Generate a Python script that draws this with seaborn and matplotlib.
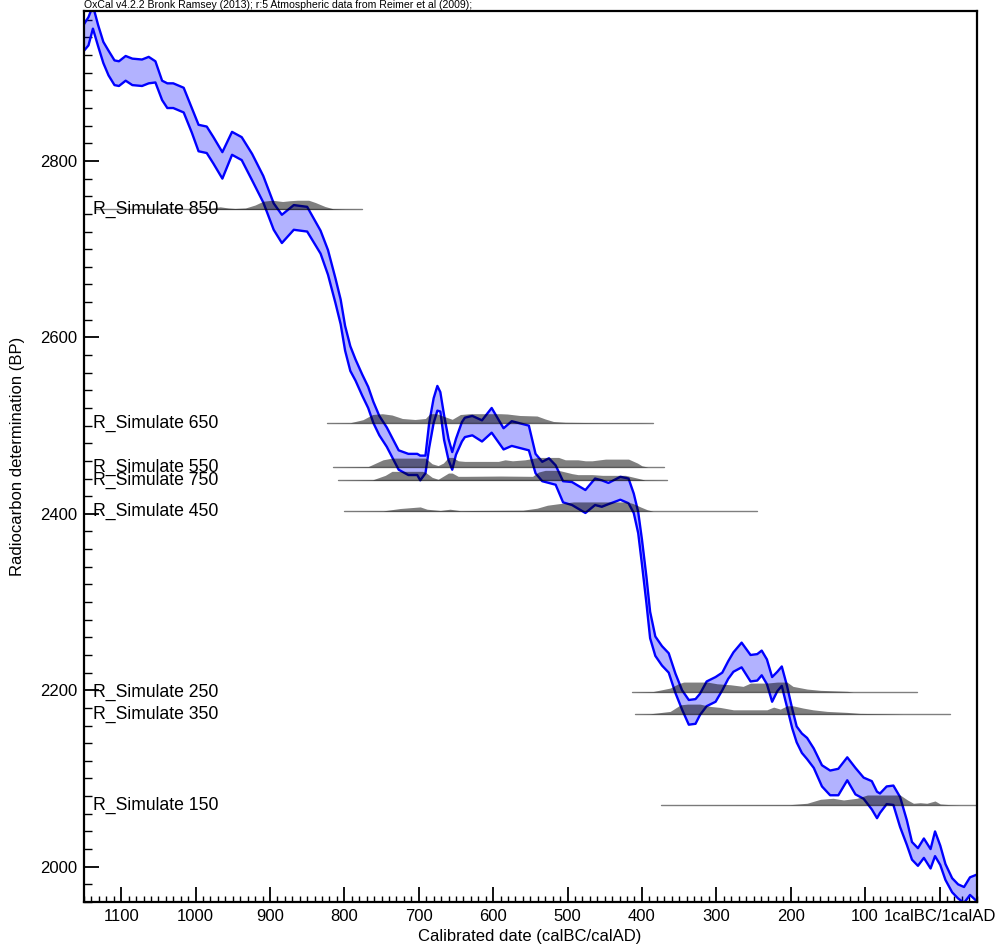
import numpy as np
import pandas as pd
import matplotlib
matplotlib.use("Agg")
import matplotlib.pyplot as plt
import seaborn as sns
from matplotlib.ticker import FixedLocator, MultipleLocator

# ---------------- data ----------------
# calibration curve (cal BC, positive = BC), mean BP and 1-sigma
curve_bc = [1150, 1144, 1138, 1131, 1124, 1117, 1109, 1103, 1094, 1085, 1072, 1063, 1054, 1045,
            1038, 1030, 1016, 1005, 996, 985, 976, 964, 951, 938, 924, 909, 895, 884, 868, 850,
            832, 822, 812, 805, 799, 792, 785, 776, 768, 761, 753, 743, 727, 714, 702, 698, 691,
            686, 680, 675, 671, 666, 660, 655, 650, 642, 638, 628, 615, 602, 586, 575, 552, 543,
            534, 525, 516, 506, 494, 476, 463, 454, 445, 429, 418, 411, 405, 400, 394, 389, 382,
            373, 364, 355, 346, 337, 328, 322, 313, 301, 292, 284, 277, 266, 254, 245, 239, 232,
            225, 218, 212, 205, 198, 192, 185, 178, 169, 158, 147, 136, 124, 113, 102, 91, 84, 80,
            71, 62, 53, 44, 37, 29, 21, 12, 6, -1, -8, -17, -25, -33, -41, -50]
curve_bp = [2940, 2947, 2963, 2942, 2923, 2911, 2900, 2899, 2905, 2901, 2900, 2903, 2901, 2880,
            2874, 2874, 2869, 2846, 2826, 2824, 2812, 2795, 2820, 2814, 2793, 2768, 2737, 2723,
            2736, 2734, 2708, 2685, 2653, 2629, 2599, 2576, 2563, 2546, 2532, 2515, 2500, 2487,
            2461, 2456, 2456, 2452, 2456, 2489, 2517, 2531, 2527, 2498, 2473, 2460, 2476, 2493,
            2498, 2500, 2494, 2506, 2485, 2491, 2486, 2457, 2448, 2449, 2444, 2425, 2423, 2414,
            2425, 2423, 2423, 2429, 2426, 2412, 2390, 2357, 2314, 2274, 2250, 2239, 2231, 2208,
            2189, 2175, 2176, 2184, 2196, 2201, 2210, 2223, 2232, 2240, 2225, 2226, 2231, 2221,
            2201, 2210, 2216, 2193, 2168, 2150, 2140, 2134, 2123, 2103, 2095, 2096, 2111, 2097,
            2089, 2081, 2070, 2072, 2081, 2081, 2062, 2039, 2018, 2011, 2021, 2009, 2026, 2013,
            1994, 1979, 1972, 1968, 1978, 1976]
curve_sigma = [15, 16, 13, 12, 12, 14, 14, 14, 14, 15, 15, 15, 12, 11, 14, 14, 14, 14, 15, 15, 15,
               15, 13, 13, 15, 15, 15, 16, 14, 14, 13, 14, 14, 14, 14, 14, 12, 12, 12, 12, 11, 11,
               11, 12, 12, 14, 10, 14, 14, 14, 11, 14, 12, 10, 9, 11, 11, 11, 12, 14, 12, 14, 14,
               11, 11, 14, 11, 12, 13, 13, 15, 15, 12, 13, 14, 11, 12, 14, 15, 15, 11, 11, 11, 11,
               11, 14, 14, 12, 14, 14, 10, 10, 11, 14, 15, 15, 14, 14, 14, 11, 11, 12, 11, 9, 11,
               12, 11, 12, 14, 15, 13, 15, 12, 16, 15, 11, 10, 11, 17, 14, 10, 10, 11, 11, 14, 11,
               9, 8, 8, 9, 10, 15]

# simulated dates: name, baseline BP, cal BC grid, relative probability
sim_names = ["R_Simulate 850", "R_Simulate 650", "R_Simulate 550", "R_Simulate 750",
             "R_Simulate 450", "R_Simulate 250", "R_Simulate 350", "R_Simulate 150"]
sim_bp = [2745, 2503, 2453, 2438, 2403, 2198, 2173, 2070]

bc_850 = [1135, 987, 978, 967, 956, 947, 933, 920, 909, 897, 883, 873, 863, 848, 839, 826, 815, 799, 776]
p_850 = [0, 0, .15, .27, .15, .10, .15, .45, .83, .93, .80, .88, .93, .93, .70, .30, .07, .02, 0]

bc_650 = [824, 792, 775, 762, 749, 736, 722, 705, 691, 685, 676, 664, 655, 644, 631, 590, 581, 564,
          541, 530, 519, 503, 456, 402, 385]
p_650 = [0, .03, .33, .85, .93, .80, .45, .35, .45, .93, .93, .60, .37, .85, .93, .93, .90, .75,
         .70, .40, .15, .07, .03, .02, 0]

bc_550 = [815, 768, 748, 736, 691, 682, 674, 667, 660, 654, 647, 638, 593, 584, 574, 557, 539, 512,
          503, 486, 476, 467, 449, 418, 406, 400, 392, 370]
p_550 = [0, .05, .73, .90, .90, .33, .15, .40, .97, .97, .63, .57, .57, .73, .63, .73, .97, .97,
         .73, .73, .63, .63, .80, .80, .40, .13, 0, 0]

bc_750 = [809, 762, 745, 736, 695, 691, 682, 674, 660, 655, 647, 638, 590, 547, 539, 530, 512, 494,
          486, 467, 453, 422, 409, 396, 366]
p_750 = [0, .05, .50, .90, .90, .80, .30, .10, .73, .73, .40, .40, .43, .40, .83, 1.0, 1.0, .67,
         .57, .57, .50, .50, .27, .03, 0]

bc_450 = [800, 748, 725, 698, 689, 671, 658, 644, 627, 560, 541, 527, 510, 492, 420, 412, 402, 393, 385, 245]
p_450 = [0, .03, .27, .43, .20, .07, .20, .05, .07, .10, .30, .60, .77, .93, .93, .77, .43, .15, 0, 0]

bc_250 = [414, 385, 362, 351, 344, 312, 299, 281, 264, 254, 232, 218, 205, 197, 178, 160, 124, 116, 30]
p_250 = [0, .05, .40, .83, 1.0, 1.0, .83, .73, .57, .90, .90, 1.0, 1.0, .57, .30, .17, .07, 0, 0]

bc_350 = [409, 389, 362, 348, 339, 322, 308, 295, 277, 232, 223, 214, 205, 197, 183, 170, 151, 124,
          107, 70, 49, -14]
p_350 = [0, .03, .27, .93, 1.0, 1.0, .77, .67, .43, .43, .70, .50, .83, .83, .60, .43, .27, .17,
         .07, .03, 0, 0]

bc_150 = [375, 201, 178, 160, 143, 129, 111, 97, 53, 43, 35, 26, 17, 6, -1, -14, -28, -50]
p_150 = [0, .03, .17, .57, .67, .50, .67, 1.0, 1.0, .50, .17, .23, .17, .40, .10, .03, 0, 0]

sim_bc = [bc_850, bc_650, bc_550, bc_750, bc_450, bc_250, bc_350, bc_150]
sim_p = [p_850, p_650, p_550, p_750, p_450, p_250, p_350, p_150]

x_tick_years = [1100, 1000, 900, 800, 700, 600, 500, 400, 300, 200, 100, 0]
x_tick_labels = ["1100", "1000", "900", "800", "700", "600", "500", "400", "300", "200", "100",
                 "1calBC/1calAD"]
y_ticks = [2000, 2200, 2400, 2600, 2800]

title_text = "OxCal v4.2.2 Bronk Ramsey (2013); r:5 Atmospheric data from Reimer et al (2009);"

# ---------------- plot ----------------
sns.set_theme(style="white")
plt.rcParams["font.family"] = ["Liberation Sans", "DejaVu Sans"]
plt.rcParams["text.color"] = "black"
plt.rcParams["axes.labelcolor"] = "black"
plt.rcParams["xtick.color"] = "black"
plt.rcParams["ytick.color"] = "black"

fig = plt.figure(figsize=(10.01, 9.48), dpi=100)
ax = fig.add_axes([84 / 1001, 46 / 948, 892.7 / 1001, 891 / 948])

curve = pd.DataFrame({
    "year": -np.array(curve_bc, dtype=float),
    "upper": np.array(curve_bp, dtype=float) + np.array(curve_sigma, dtype=float),
    "lower": np.array(curve_bp, dtype=float) - np.array(curve_sigma, dtype=float),
})
ax.fill_between(curve["year"], curve["lower"], curve["upper"], color=(0, 0, 1, 0.3), lw=0, zorder=2)
sns.lineplot(data=curve, x="year", y="upper", color="#0000ff", lw=1.7, ax=ax, sort=False, zorder=2)
sns.lineplot(data=curve, x="year", y="lower", color="#0000ff", lw=1.7, ax=ax, sort=False, zorder=2)

scale = 11.3
for name, base, bc, p in zip(sim_names, sim_bp, sim_bc, sim_p):
    yrs = -np.array(bc, dtype=float)
    pr = np.array(p, dtype=float)
    ax.fill_between(yrs, base, base + pr * scale, color="black", alpha=0.5, lw=0, zorder=3)
    ax.plot([yrs[0], yrs[-1]], [base, base], color="black", alpha=0.5, lw=1.0, zorder=3)
    ax.text(-1138, base, name, ha="left", va="center", fontsize=12.7, color="black", zorder=4)

ax.set_xlim(-1150, 50)
ax.set_ylim(1960, 2970)
ax.xaxis.set_major_locator(FixedLocator([-y for y in x_tick_years]))
ax.set_xticklabels(x_tick_labels)
ax.xaxis.set_minor_locator(MultipleLocator(10))
ax.set_yticks(y_ticks)
ax.set_yticklabels([str(v) for v in y_ticks])
ax.yaxis.set_minor_locator(MultipleLocator(20))

ax.tick_params(axis="both", which="major", direction="in", length=11, width=1.3,
               labelsize=12, bottom=True, left=True, top=False, right=False, pad=5)
ax.tick_params(axis="x", which="minor", direction="in", length=4.5, width=1.0,
               bottom=True, top=False)
ax.tick_params(axis="y", which="minor", direction="in", length=6, width=1.0,
               left=True, right=False)
ax.set_xlabel("")
ax.set_ylabel("")
for s in ax.spines.values():
    s.set_color("black")
    s.set_linewidth(1.6)
    s.set_visible(True)

fig.text(84 / 1001, 1 - 0.5 / 948, title_text, ha="left", va="top", fontsize=7.6)
fig.text(530 / 1001, 1 - 936 / 948, "Calibrated date (calBC/calAD)", ha="center", va="center", fontsize=12)
fig.text(18 / 1001, 1 - 456 / 948, "Radiocarbon determination (BP)", ha="center", va="center",
         rotation=90, fontsize=12)

fig.savefig("out.png", dpi=100)
